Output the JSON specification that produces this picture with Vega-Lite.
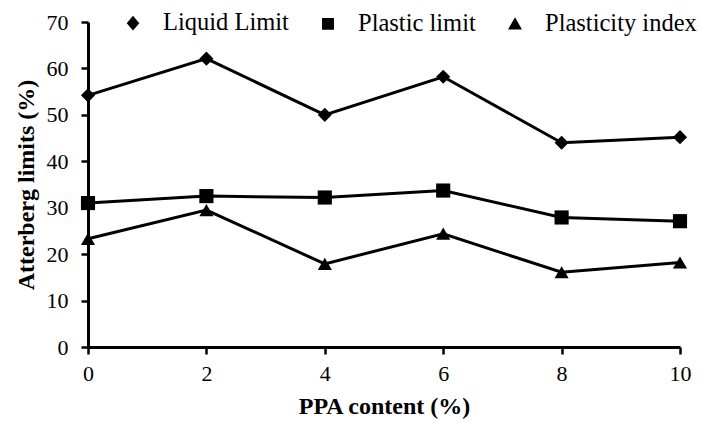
{
  "$schema": "https://vega.github.io/schema/vega-lite/v6.json",
  "autosize": "none",
  "width": 592,
  "height": 325,
  "padding": {"left": 88, "top": 22, "right": 22, "bottom": 76},
  "background": "white",
  "config": {
    "view": {"stroke": null},
    "font": "Liberation Serif",
    "axis": {
      "grid": false,
      "domainColor": "black",
      "domainWidth": 3,
      "tickColor": "black",
      "tickWidth": 2.5,
      "tickSize": 7,
      "labelFont": "Liberation Serif",
      "labelFontSize": 22,
      "labelColor": "black",
      "titleFont": "Liberation Serif",
      "titleFontSize": 24,
      "titleFontWeight": "bold",
      "titleColor": "black"
    }
  },
  "data": {
    "values": [
      {"ppa": 0, "series": "Liquid Limit", "value": 54.2},
      {"ppa": 2, "series": "Liquid Limit", "value": 62.1},
      {"ppa": 4, "series": "Liquid Limit", "value": 50.0},
      {"ppa": 6, "series": "Liquid Limit", "value": 58.2},
      {"ppa": 8, "series": "Liquid Limit", "value": 44.0},
      {"ppa": 10, "series": "Liquid Limit", "value": 45.2},
      {"ppa": 0, "series": "Plastic limit", "value": 31.0},
      {"ppa": 2, "series": "Plastic limit", "value": 32.5},
      {"ppa": 4, "series": "Plastic limit", "value": 32.2},
      {"ppa": 6, "series": "Plastic limit", "value": 33.7},
      {"ppa": 8, "series": "Plastic limit", "value": 27.9},
      {"ppa": 10, "series": "Plastic limit", "value": 27.1},
      {"ppa": 0, "series": "Plasticity  index", "value": 23.3},
      {"ppa": 2, "series": "Plasticity  index", "value": 29.5},
      {"ppa": 4, "series": "Plasticity  index", "value": 17.9},
      {"ppa": 6, "series": "Plasticity  index", "value": 24.4},
      {"ppa": 8, "series": "Plasticity  index", "value": 16.1},
      {"ppa": 10, "series": "Plasticity  index", "value": 18.2}
    ]
  },
  "encoding": {
    "x": {
      "field": "ppa",
      "type": "quantitative",
      "scale": {"domain": [0, 10], "nice": false, "zero": false},
      "axis": {"values": [0, 2, 4, 6, 8, 10], "title": "PPA content (%)", "labelPadding": 9, "titlePadding": 10, "labelFlush": false}
    },
    "y": {
      "field": "value",
      "type": "quantitative",
      "scale": {"domain": [0, 70], "nice": false},
      "axis": {"values": [0, 10, 20, 30, 40, 50, 60, 70], "title": "Atterberg  limits (%)", "labelPadding": 13, "titlePadding": 8}
    }
  },
  "resolve": {"scale": {"shape": "independent"}, "legend": {"shape": "independent"}},
  "layer": [
    {
      "mark": {"type": "line", "strokeWidth": 3, "color": "black"},
      "encoding": {
        "detail": {"field": "series", "type": "nominal"}
      }
    },
    {
      "mark": {"type": "point", "filled": true, "size": 200, "opacity": 1, "color": "black"},
      "encoding": {
        "shape": {
          "field": "series",
          "type": "nominal",
          "scale": {
            "domain": ["Liquid Limit", "Plastic limit", "Plasticity  index"],
            "range": ["diamond", "square", "triangle-up"]
          },
          "legend": null
        }
      }
    },
    {
      "transform": [{"filter": "datum.value < 0"}],
      "mark": {"type": "point", "filled": true, "fill": "black", "stroke": "black", "strokeWidth": 3, "opacity": 1},
      "encoding": {
        "shape": {
          "field": "series",
          "type": "nominal",
          "scale": {
            "domain": ["Liquid Limit", "Plastic limit", "Plasticity  index"],
            "range": [
              "M-3.571,0H3.571M0,-1.05L0.9,0L0,1.05L-0.9,0Z",
              "M-3.571,0H3.571M-0.85,-0.85H0.85V0.85H-0.85Z",
              "M-3.571,0H3.571M0,-1L1,0.75L-1,0.75Z"
            ]
          },
          "legend": {
            "orient": "none",
            "legendX": 20,
            "legendY": -11.25,
            "direction": "horizontal",
            "title": null,
            "symbolSize": 196,
            "symbolOffset": 12.75,
            "labelOffset": 17.75,
            "columnPadding": 8,
            "symbolFillColor": "black",
            "symbolStrokeColor": "black",
            "symbolStrokeWidth": 3,
            "symbolOpacity": 1,
            "labelFont": "Liberation Serif",
            "labelFontSize": 24.5,
            "labelColor": "black",
            "labelLimit": 300
          }
        }
      }
    }
  ]
}
